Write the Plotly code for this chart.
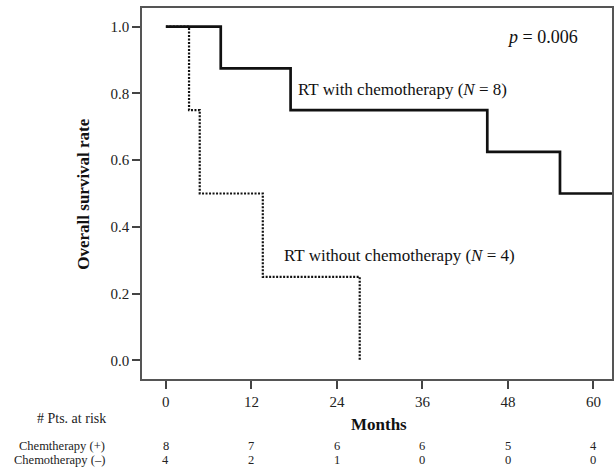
import plotly.graph_objects as go

# Kaplan-Meier step data (months, survival)
chemo_t = [0, 7.7, 17.5, 45.1, 55.3, 66]
chemo_s = [1.0, 0.875, 0.75, 0.625, 0.5, 0.5]
nochemo_t = [0, 3.25, 4.75, 13.6, 27.2]
nochemo_s = [1.0, 0.75, 0.5, 0.25, 0.0]

risk_times = [0, 12, 24, 36, 48, 60]
risk_plus = [8, 7, 6, 6, 5, 4]
risk_minus = [4, 2, 1, 0, 0, 0]
row_labels = ["Chemtherapy (+)", "Chemotherapy (\u2013)"]

FONT = "Liberation Serif"
W, H = 616, 469
ML, MR, MT, MB = 142, 2, 8, 90
PH = H - MT - MB
PW = W - ML - MR
ROW_Y = [446, 460]

def py(ypx):
    return (H - MB - ypx) / PH

def px(xpx):
    return (xpx - ML) / PW

fig = go.Figure()
fig.add_trace(go.Scatter(x=chemo_t, y=chemo_s, mode="lines", line_shape="hv",
                         line=dict(color="#111", width=2.7), showlegend=False))
fig.add_trace(go.Scatter(x=nochemo_t, y=nochemo_s, mode="lines", line_shape="hv",
                         line=dict(color="#111", width=2.2, dash="2px,1.5px"), showlegend=False))

ann = []
ann.append(dict(x=47.6, y=0.970, xref="x", yref="y", text="<i>p</i> = 0.006",
                xanchor="left", yanchor="middle", showarrow=False,
                font=dict(family=FONT, size=18, color="#111")))
ann.append(dict(x=18.3, y=0.813, xref="x", yref="y", text="RT with chemotherapy (<i>N</i> = 8)",
                xanchor="left", yanchor="middle", showarrow=False,
                font=dict(family=FONT, size=17, color="#111")))
ann.append(dict(x=16.3, y=0.313, xref="x", yref="y", text="RT without chemotherapy (<i>N</i> = 4)",
                xanchor="left", yanchor="middle", showarrow=False,
                font=dict(family=FONT, size=17, color="#111")))
ann.append(dict(x=px(83), y=0.5, xref="paper", yref="paper", text="<b>Overall survival rate</b>",
                textangle=-90, xanchor="center", yanchor="middle", showarrow=False,
                font=dict(family=FONT, size=17, color="#111")))
ann.append(dict(x=px(380), y=py(424), xref="paper", yref="paper", text="<b>Months</b>",
                xanchor="center", yanchor="middle", showarrow=False,
                font=dict(family=FONT, size=17, color="#111")))
ann.append(dict(x=px(108), y=py(418), xref="paper", yref="paper", text="# Pts. at risk",
                xanchor="right", yanchor="middle", showarrow=False,
                font=dict(family=FONT, size=14, color="#222")))
for lbl, ypix in zip(row_labels, ROW_Y):
    ann.append(dict(x=px(106), y=py(ypix), xref="paper", yref="paper", text=lbl,
                    xanchor="right", yanchor="middle", showarrow=False, borderpad=0,
                    font=dict(family=FONT, size=12.5, color="#222")))
for vals, ypix in zip([risk_plus, risk_minus], ROW_Y):
    for t, v in zip(risk_times, vals):
        ann.append(dict(x=t, y=py(ypix), xref="x", yref="paper", text=str(v),
                        xanchor="center", yanchor="middle", showarrow=False, borderpad=0,
                        font=dict(family=FONT, size=12.5, color="#222")))

fig.update_layout(
    width=W, height=H,
    margin=dict(l=ML, r=MR, t=MT, b=MB),
    paper_bgcolor="white", plot_bgcolor="white",
    annotations=ann,
    xaxis=dict(range=[-3.35, 62.6], tickvals=risk_times, ticks="outside", ticklen=8,
               tickwidth=1.5, tickcolor="#444", showgrid=False, zeroline=False,
               showline=True, linecolor="#555", linewidth=1.5, mirror=True,
               tickfont=dict(family=FONT, size=15, color="#222")),
    yaxis=dict(range=[-0.056, 1.056], tickvals=[0, 0.2, 0.4, 0.6, 0.8, 1.0],
               tickformat=".1f", ticks="outside", ticklen=8, tickwidth=1.5,
               tickcolor="#444", showgrid=False, zeroline=False,
               showline=True, linecolor="#555", linewidth=1.5, mirror=True,
               tickfont=dict(family=FONT, size=15, color="#222")),
)

fig.write_html("out.html")
